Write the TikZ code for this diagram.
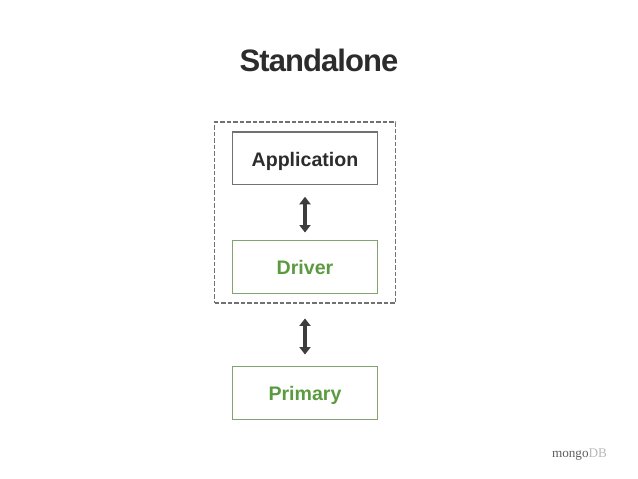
\documentclass[tikz,border=0pt]{standalone}
\usepackage{fontspec}
\setmainfont{Liberation Sans}
\newfontfamily\logofont{Liberation Serif}
\usetikzlibrary{arrows.meta}
\definecolor{boxgray}{HTML}{6F7172}
\definecolor{mgreen}{HTML}{5B9A3F}
\definecolor{boxgreen}{HTML}{7FA470}
\definecolor{inkdark}{HTML}{2C2C2C}
\definecolor{arrowdark}{HTML}{3D3D3D}
\tikzset{
  x=1pt,y=-1pt,
  stackbox/.style={draw,line width=1.4pt,minimum width=145pt,minimum height=52.5pt,inner sep=0pt,text height=15.5pt,text depth=0pt,font=\fontsize{19.6}{22}\selectfont\bfseries},
  plainbox/.style={stackbox,draw=boxgray,text=inkdark},
  greenbox/.style={stackbox,draw=boxgreen,text=mgreen},
  biarrow/.style={draw=arrowdark,line width=3.4pt,{Triangle[width=11pt,length=7.5pt]}-{Triangle[width=11pt,length=7.5pt]}},
}
\begin{document}
\begin{tikzpicture}
\useasboundingbox (0,0) rectangle (638,479);
\node[text=inkdark,font=\fontsize{31}{34}\selectfont\bfseries] (title) at (319,60.5) {\addfontfeatures{LetterSpace=-3}Standalone};
\node[plainbox] (app) at (305,158.3) {Application};
\node[greenbox] (drv) at (305,267) {Driver};
\node[greenbox] (pri) at (305,393) {Primary};
\node[draw=boxgray,line width=1.2pt,dash pattern=on 4.5pt off 2pt,inner sep=0pt,minimum width=181pt,minimum height=181pt] (host) at (305,212.5) {};
\draw[biarrow,shorten <=11.5pt,shorten >=7.5pt] (app.south) -- (drv.north);
\draw[biarrow,shorten <=24.5pt,shorten >=11.5pt] (drv.south) -- (pri.north);
\node[inner sep=0pt,font=\fontsize{13.2}{15}\logofont] (logo) at (579.5,454.5) {\textcolor[HTML]{5E5E5E}{mongo}\textcolor[HTML]{B8B8B8}{DB}};
\end{tikzpicture}
\end{document}
